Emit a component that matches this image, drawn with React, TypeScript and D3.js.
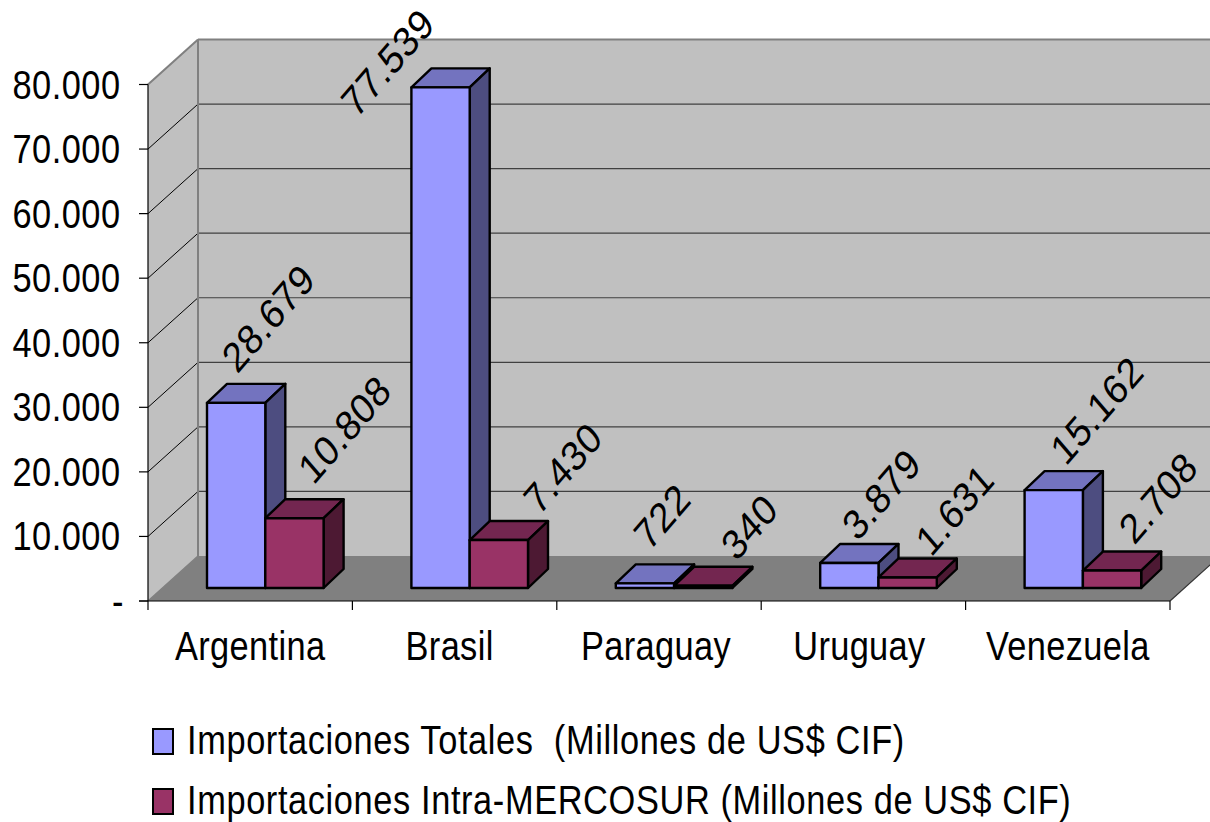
import React from 'react'
import * as d3 from 'd3'

const categories = ['Argentina', 'Brasil', 'Paraguay', 'Uruguay', 'Venezuela']
const seriesNames = [
  'Importaciones Totales  (Millones de US$ CIF)',
  'Importaciones Intra-MERCOSUR (Millones de US$ CIF)',
]
const totales = [28679, 77539, 722, 3879, 15162]
const intra = [10808, 7430, 340, 1631, 2708]
const yTicks = [0, 10000, 20000, 30000, 40000, 50000, 60000, 70000, 80000]
const yTickLabels = ['-', '10.000', '20.000', '30.000', '40.000', '50.000', '60.000', '70.000', '80.000']

// face colours for each series: front, top, side
const faces = [
  { front: '#9999ff', top: '#7373bf', side: '#4d4d80' },
  { front: '#993366', top: '#732650', side: '#4d1933' },
]

// the source image is squeezed horizontally, text follows that
const squeeze = 0.86
const fontSize = 40

// label centre relative to top-centre of bar front face [dx, dy]
const labelNudge = [
  [[32, -85], [-53, -25], [17, -67], [32, -69], [43, -80]],
  [[50, -89], [64, -72], [46, -59], [47, -68], [46, -73]],
]
// category names are not quite centred in the source
const categoryNudge = [0, -5, -3, -4, 0]

const x0 = 148
const x1 = 1170
const yBase = 601
const yTop = 84.5
const depth = { x: 50, y: -45 }
const barOff = { x: 14, y: -13 }
const barDepth = { x: 20, y: -19 }

const x = d3.scaleBand<string>().domain(categories).range([x0, x1]).paddingInner(0).paddingOuter(0)
const y = d3.scaleLinear().domain([0, 80000]).range([yBase, yTop])
const inner = d3.scaleBand<number>().domain([0, 1]).range([45, 45 + 116.6])

const poly = (pts: [number, number][]) => {
  const p = d3.path()
  pts.forEach((q, i) => (i === 0 ? p.moveTo(q[0], q[1]) : p.lineTo(q[0], q[1])))
  p.closePath()
  return p.toString()
}

const Bar = ({ cat, s, value }: { cat: string; s: number; value: number }) => {
  const l = (x(cat) as number) + (inner(s) as number) + barOff.x
  const r = l + inner.bandwidth()
  const b = y(0) + barOff.y
  const t = y(value) + barOff.y
  const c = faces[s]
  const dx = barDepth.x
  const dy = barDepth.y
  return (
    <g stroke="#000" strokeWidth={2.4} strokeLinejoin="round">
      <path d={poly([[l, t], [r, t], [r + dx, t + dy], [l + dx, t + dy]])} fill={c.top} />
      <path d={poly([[r, t], [r + dx, t + dy], [r + dx, b + dy], [r, b]])} fill={c.side} />
      <path d={poly([[l, t], [r, t], [r, b], [l, b]])} fill={c.front} />
    </g>
  )
}

const Txt = ({ px, py, anchor, spacing, children }: any) => (
  <text
    transform={`translate(${px},${py}) scale(${squeeze},1)`}
    textAnchor={anchor}
    fontFamily="'Liberation Sans', Arial, sans-serif"
    fontSize={fontSize}
    letterSpacing={spacing}
    fill="#000"
    style={{ whiteSpace: 'pre' }}
  >
    {children}
  </text>
)

const App: React.FC = () => {
  const values = [totales, intra]
  const bx = x0 + depth.x
  const farX = x1 + depth.x
  return (
    <svg
      width={1210}
      height={822}
      viewBox="0 0 1210 822"
      style={{ position: 'fixed', left: 0, top: 0, display: 'block', background: '#fff' }}
    >
      {/* walls */}
      <path d={poly([[bx, y(80000) + depth.y], [farX, y(80000) + depth.y], [farX, yBase + depth.y], [bx, yBase + depth.y]])} fill="#c0c0c0" />
      <path d={poly([[x0, y(80000)], [bx, y(80000) + depth.y], [bx, yBase + depth.y], [x0, yBase]])} fill="#c0c0c0" />
      <path d={poly([[x0, yBase], [bx, yBase + depth.y], [farX, yBase + depth.y], [x1, yBase]])} fill="#808080" />

      {/* gridlines */}
      {yTicks.slice(1, -1).map(t => (
        <g key={t}>
          <line x1={x0} y1={y(t)} x2={bx} y2={y(t) + depth.y} stroke="#000" strokeWidth={1} />
          <line x1={bx} y1={y(t) + depth.y} x2={farX} y2={y(t) + depth.y} stroke="#404040" strokeWidth={1.2} />
        </g>
      ))}
      <line x1={bx} y1={y(80000) + depth.y} x2={farX} y2={y(80000) + depth.y} stroke="#808080" strokeWidth={2} />
      <line x1={bx} y1={y(80000) + depth.y} x2={bx} y2={yBase + depth.y} stroke="#808080" strokeWidth={2} />
      <line x1={x0} y1={y(80000)} x2={bx} y2={y(80000) + depth.y} stroke="#808080" strokeWidth={2} />
      <line x1={x0} y1={yBase} x2={bx} y2={yBase + depth.y} stroke="#808080" strokeWidth={1.5} />
      <line x1={x1} y1={yBase} x2={farX} y2={yBase + depth.y} stroke="#333" strokeWidth={1.2} />

      {/* axes */}
      <line x1={x0} y1={y(80000)} x2={x0} y2={yBase + 9} stroke="#000" strokeWidth={1.2} />
      <line x1={x0 - 9} y1={yBase} x2={x1} y2={yBase} stroke="#000" strokeWidth={1.2} />
      {yTicks.map(t => (
        <line key={t} x1={x0 - 9} y1={y(t)} x2={x0} y2={y(t)} stroke="#000" strokeWidth={1.2} />
      ))}
      {categories.map(c => (
        <line key={c} x1={(x(c) as number) + x.bandwidth()} y1={yBase} x2={(x(c) as number) + x.bandwidth()} y2={yBase + 9} stroke="#000" strokeWidth={1.2} />
      ))}

      {/* bars */}
      {categories.map((c, i) => (
        <g key={c}>
          <Bar cat={c} s={0} value={totales[i]} />
          <Bar cat={c} s={1} value={intra[i]} />
        </g>
      ))}

      {/* tick labels */}
      {yTicks.map((t, i) => (
        <Txt key={t} px={i === 0 ? 124 : 120.5} py={y(t) + 14} anchor="end" spacing={0.55}>{yTickLabels[i]}</Txt>
      ))}
      {categories.map((c, i) => (
        <Txt key={c} px={(x(c) as number) + x.bandwidth() / 2 + categoryNudge[i]} py={660} anchor="middle" spacing={0.4}>{c}</Txt>
      ))}

      {/* data labels */}
      {values.map((vals, s) =>
        vals.map((v, i) => {
          const cat = categories[i]
          const cx = (x(cat) as number) + (inner(s) as number) + barOff.x + inner.bandwidth() / 2
          const top = y(v) + barOff.y
          const [nx, ny] = labelNudge[s][i]
          return (
            <g key={`${s}-${cat}`} transform={`translate(${cx + nx},${top + ny})`}>
              <text
                transform={`scale(${squeeze},1) rotate(-45)`}
                textAnchor="middle"
                dy="0.35em"
                fontFamily="'Liberation Sans', Arial, sans-serif"
                fontSize={fontSize + 2}
                letterSpacing={0.5}
                fill="#000"
              >
                {d3.format(',')(v).replace(/,/g, '.')}
              </text>
            </g>
          )
        }),
      )}

      {/* legend */}
      {seriesNames.map((n, i) => (
        <g key={n}>
          <rect x={153} y={729 + i * 60} width={20} height={25} fill={faces[i].front} stroke="#000" strokeWidth={2} />
          <Txt px={187} py={754 + i * 60} anchor="start" spacing={0.7}>{n}</Txt>
        </g>
      ))}
    </svg>
  )
}

export default App
